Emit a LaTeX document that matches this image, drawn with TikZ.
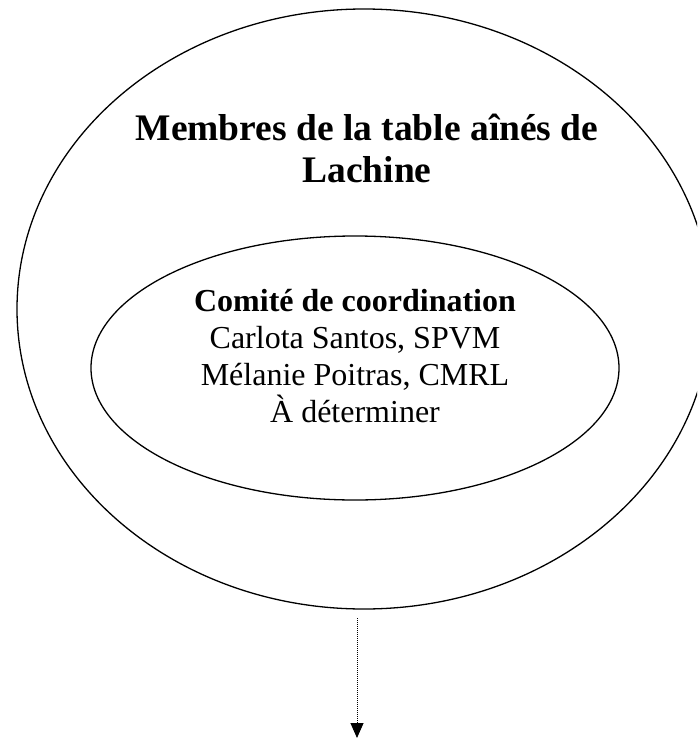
\documentclass[tikz,border=0pt]{standalone}
\usepackage{fontspec}
\setmainfont{Liberation Serif}
\usetikzlibrary{shapes.geometric,arrows.meta}
\begin{document}
\begin{tikzpicture}[x=1pt,y=-1pt,
	cercle/.style={draw, ellipse, line width=1.3pt, inner sep=0pt}]
	\useasboundingbox (0,0) rectangle (697,739);
	\clip (0,0) rectangle (697,739);
	\node[cercle, minimum width=694pt, minimum height=600pt] (table) at (364,309) {};
	\node[font=\bfseries\fontsize{37.5}{42}\selectfont, align=center, anchor=base] (titre) at (367,182) {Membres de la table aînés de\\Lachine};
	\node[cercle, minimum width=528pt, minimum height=264pt] (comite) at (355,368) {};
	\node[font=\fontsize{32}{37}\selectfont, align=center, anchor=base] (membres) at (355,422) {\textbf{Comité de coordination}\\Carlota Santos, SPVM\\Mélanie Poitras, CMRL\\À déterminer};
	\coordinate (depart) at (357,618);
	\coordinate (fin) at (357,738);
	\draw[densely dotted, line width=1pt, -{Triangle[width=13pt,length=15pt]}] (depart) -- (fin);
\end{tikzpicture}
\end{document}
